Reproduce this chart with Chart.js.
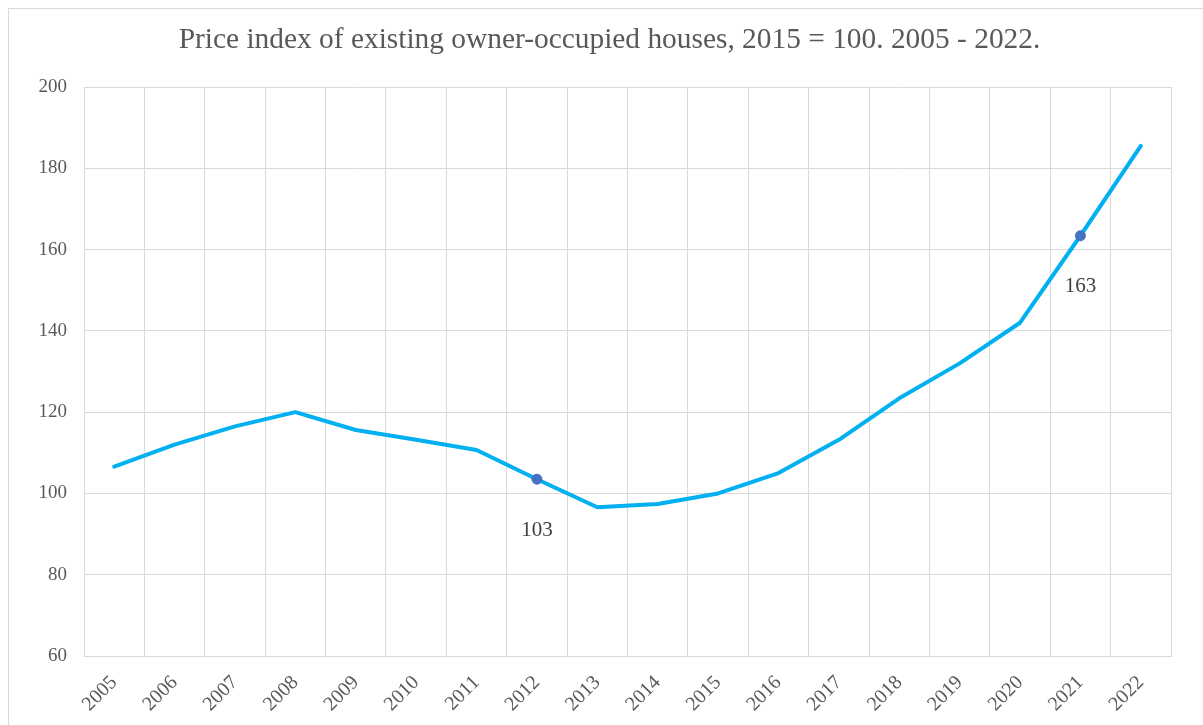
<!DOCTYPE html>
<html>
<head>
<meta charset="utf-8">
<script src="https://cdn.jsdelivr.net/npm/chart.js@4"></script>
<style>
  html, body { margin: 0; padding: 0; background: #fff; }
  #wrap { width: 1203px; height: 725px; position: relative; }
</style>
</head>
<body>
<div id="wrap"><canvas id="priceChart"></canvas></div>
<script>
// data
const years = ['2005', '2006', '2007', '2008', '2009', '2010', '2011', '2012', '2013',
               '2014', '2015', '2016', '2017', '2018', '2019', '2020', '2021', '2022'];
const priceIndex = [106.6, 112.0, 116.5, 120.0, 115.6, 113.2, 110.7, 103.5, 96.6,
                    97.4, 100.0, 105.0, 113.2, 123.4, 132.0, 142.0, 163.4, 185.5];
const labelledYears = ['2012', '2021'];
const labelTexts = ['103', '163'];
const yTicks = [60, 80, 100, 120, 140, 160, 180, 200];
const chartTitle = 'Price index of existing owner-occupied houses, 2015 = 100. 2005 - 2022.';

const serif = 'Liberation Serif';

// light frame like the Excel chart area, plus the title (sits a bit right of centre)
const chartFrame = {
    id: 'chartFrame',
    beforeDraw: (chart) => {
        const ctx = chart.ctx;
        ctx.save();
        ctx.fillStyle = '#fff';
        ctx.fillRect(0, 0, chart.width, chart.height);
        ctx.strokeStyle = '#D9D9D9';
        ctx.lineWidth = 1;
        ctx.strokeRect(8.5, 8.5, chart.width + 20, chart.height + 20);

        ctx.font = `29.4px "${serif}"`;
        ctx.fillStyle = '#595959';
        ctx.textAlign = 'center';
        ctx.textBaseline = 'alphabetic';
        ctx.fillText(chartTitle, chart.width / 2 + 8, 48);
        ctx.restore();
    }
};

// the two value labels under the marked points
const pointLabels = {
    id: 'pointLabels',
    afterDatasetsDraw: (chart) => {
        const ctx = chart.ctx;
        const meta = chart.getDatasetMeta(0);
        ctx.save();
        ctx.font = `21px "${serif}"`;
        ctx.fillStyle = '#404040';
        ctx.textAlign = 'center';
        ctx.textBaseline = 'middle';
        labelledYears.forEach((yr, i) => {
            const pt = meta.data[years.indexOf(yr)];
            ctx.fillText(labelTexts[i], pt.x, pt.y + 51);
        });
        ctx.restore();
    }
};

const ctx = document.getElementById('priceChart').getContext('2d');
new Chart(ctx, {
    type: 'line',
    data: {
        labels: years,
        datasets: [{
            data: priceIndex,
            borderColor: '#00B0F0',
            borderWidth: 4,
            borderCapStyle: 'round',
            borderJoinStyle: 'round',
            tension: 0,
            pointRadius: years.map(y => labelledYears.includes(y) ? 5 : 0),
            pointBackgroundColor: '#4472C4',
            pointBorderColor: '#4472C4',
            pointBorderWidth: 1,
        }]
    },
    options: {
        responsive: true,
        maintainAspectRatio: false,
        animation: false,
        layout: {
            padding: { left: 0, right: 32, top: 87, bottom: 0 }
        },
        plugins: {
            legend: { display: false },
            tooltip: { enabled: false },
            title: { display: false }
        },
        scales: {
            x: {
                offset: true,
                grid: { offset: true, color: '#D9D9D9', drawTicks: false },
                border: { color: '#D9D9D9' },
                ticks: {
                    color: '#595959',
                    font: { family: serif, size: 20 },
                    minRotation: 45,
                    maxRotation: 45,
                    padding: 15,
                    autoSkip: false
                },
                afterFit: (scale) => { scale.height = 69; }
            },
            y: {
                min: yTicks[0],
                max: yTicks[yTicks.length - 1],
                afterBuildTicks: (scale) => { scale.ticks = yTicks.map(v => ({ value: v })); },
                grid: { color: '#D9D9D9', drawTicks: false },
                border: { color: '#D9D9D9' },
                ticks: {
                    color: '#595959',
                    font: { family: serif, size: 19 },
                    padding: 17
                },
                afterFit: (scale) => { scale.width = 84; }
            }
        }
    },
    plugins: [chartFrame, pointLabels]
});
</script>
</body>
</html>
